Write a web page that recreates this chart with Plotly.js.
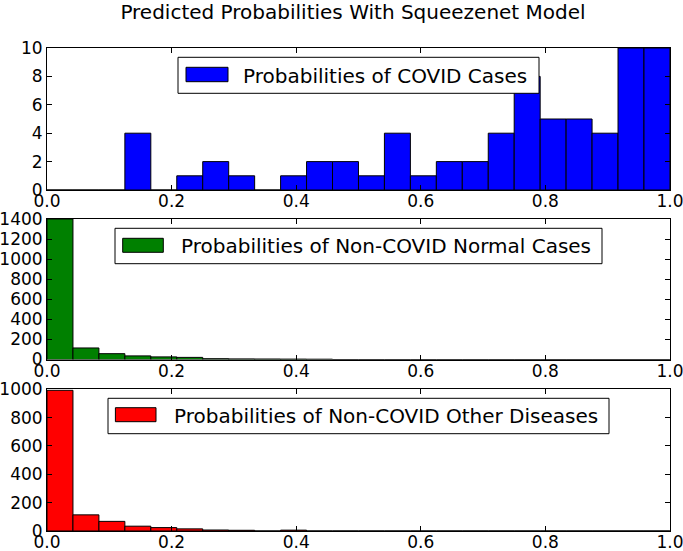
<!DOCTYPE html>
<html>
<head>
<meta charset="utf-8">
<script src="https://cdn.plot.ly/plotly-3.0.1.min.js"></script>
<style>html,body{margin:0;padding:0;background:#fff;}#chart{width:683px;height:551px;}</style>
</head>
<body>
<div id="chart"></div>
<script>
// 24 equal-width bins on [0, 1]
const binCount = 24;
const covidCounts  = [0, 0, 0, 4, 0, 1, 2, 1, 0, 1, 2, 2, 1, 4, 1, 2, 2, 4, 8, 5, 5, 4, 10, 10];
const normalCounts = [1400, 115, 58, 36, 26, 21, 8, 6, 5, 4, 3, 0, 0, 0, 0, 0, 0, 0, 0, 0, 0, 0, 0, 0];
const otherCounts  = [993, 114, 68, 34, 24, 15, 7, 5, 0, 6, 0, 0, 0, 0, 0, 0, 0, 0, 0, 0, 0, 0, 0, 0];
const seriesNames = ["Probabilities of COVID Cases", "Probabilities of Non-COVID Normal Cases", "Probabilities of Non-COVID Other Diseases"];
const seriesColors = ["#0000ff", "#008000", "#ff0000"];
const yRanges = [[0, 10], [0, 1400], [0, 1000]];
const yDticks = [2, 200, 200];
const xTickVals = [0, 0.2, 0.4, 0.6, 0.8, 1.0];
const xTickText = ["0.0", "0.2", "0.4", "0.6", "0.8", "1.0"];
const chartTitle = "Predicted Probabilities With Squeezenet Model";

const binWidth = 1 / binCount;
const binCenters = covidCounts.map((_, i) => (i + 0.5) * binWidth);
const allCounts = [covidCounts, normalCounts, otherCounts];

const W = 683, H = 551;
const M = {l: 47, r: 13, t: 48, b: 20};
const PW = W - M.l - M.r, PH = H - M.t - M.b;
const px = x => (x - M.l) / PW;
const py = y => (H - M.b - y) / PH;

const domains = [[py(190), 1], [py(359.5), py(219)], [0, py(389.3)]];
const font = "DejaVu Sans";

const traces = allCounts.map((c, k) => ({
  type: "bar",
  x: binCenters,
  y: c,
  width: binWidth,
  marker: {color: seriesColors[k], line: {color: "#000", width: 1}},
  xaxis: k === 0 ? "x" : "x" + (k + 1),
  yaxis: k === 0 ? "y" : "y" + (k + 1),
  showlegend: false,
  hoverinfo: "skip",
  cliponaxis: true
}));

const layout = {
  width: W, height: H,
  margin: M,
  paper_bgcolor: "#fff", plot_bgcolor: "#fff",
  font: {family: font, size: 17, color: "#000"},
  bargap: 0,
  showlegend: false,
  title: {text: chartTitle, font: {family: font, size: 20, color: "#000"},
          xref: "paper", x: px(353), xanchor: "center", yref: "container", y: 1 - 12 / H, yanchor: "middle"},
  shapes: [],
  annotations: []
};

const axisCommon = {
  showline: true, linecolor: "#000", linewidth: 1, mirror: "ticks",
  ticks: "inside", ticklen: 5, tickwidth: 1, tickcolor: "#000",
  showgrid: false, zeroline: false, automargin: false, fixedrange: true,
  ticklabeloverflow: "allow",
  tickfont: {family: font, size: 17, color: "#000"}
};

for (let k = 0; k < 3; k++) {
  const xs = k === 0 ? "xaxis" : "xaxis" + (k + 1);
  const ys = k === 0 ? "yaxis" : "yaxis" + (k + 1);
  const xa = k === 0 ? "x" : "x" + (k + 1);
  const ya = k === 0 ? "y" : "y" + (k + 1);
  layout[xs] = Object.assign({}, axisCommon, {
    range: [0, 1.0001], tickmode: "array", tickvals: xTickVals, ticktext: xTickText,
    anchor: ya, domain: [0, 1], ticklabelstandoff: -4
  });
  layout[ys] = Object.assign({}, axisCommon, {
    range: yRanges[k], dtick: yDticks[k], tick0: 0, anchor: xa, domain: domains[k]
  });
}

// legend boxes (frame, patch, text), positions in pixels
const legends = [
  {box: [178, 57.3, 539, 93.3], patch: [186, 67.3, 228, 81.7], textX: 241, textY: 75.5},
  {box: [115, 228.3, 602, 263.7], patch: [122.7, 238.3, 163.3, 252.3], textX: 179, textY: 246},
  {box: [108, 398.3, 609, 433.7], patch: [115.4, 407.7, 156, 421.7], textX: 172, textY: 416}
];
legends.forEach((L, k) => {
  layout.shapes.push({type: "rect", xref: "paper", yref: "paper", layer: "above",
    x0: px(L.box[0]), x1: px(L.box[2]), y0: py(L.box[3]), y1: py(L.box[1]),
    line: {color: "#000", width: 1}, fillcolor: "#fff"});
  layout.shapes.push({type: "rect", xref: "paper", yref: "paper", layer: "above",
    x0: px(L.patch[0]), x1: px(L.patch[2]), y0: py(L.patch[3]), y1: py(L.patch[1]),
    line: {color: "#000", width: 1}, fillcolor: seriesColors[k]});
  layout.annotations.push({xref: "paper", yref: "paper", x: px(L.textX), y: py(L.textY),
    xanchor: "left", yanchor: "middle", showarrow: false, text: seriesNames[k],
    font: {family: font, size: 20, color: "#000"}});
});

Plotly.newPlot("chart", traces, layout, {displayModeBar: false, staticPlot: true});
</script>
</body>
</html>
